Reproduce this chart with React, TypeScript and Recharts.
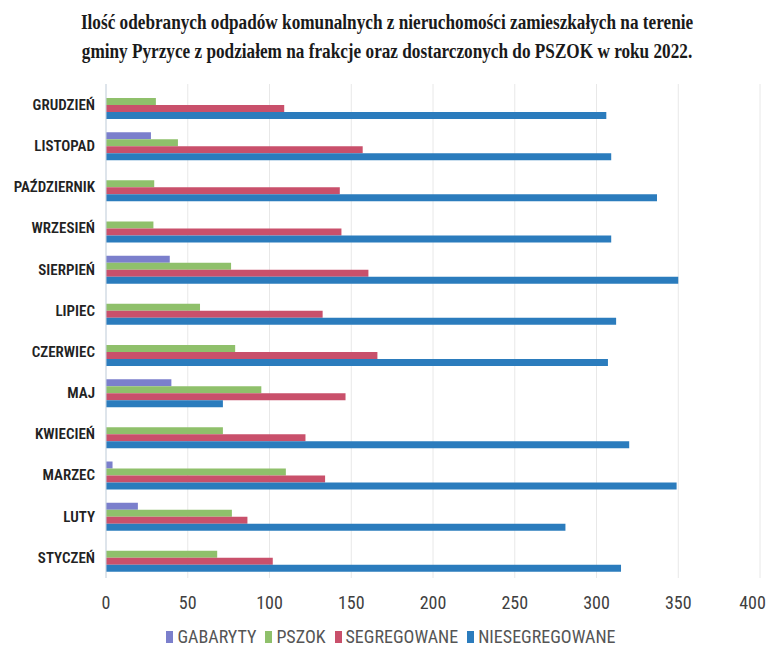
import React from "react";
import {
  BarChart,
  Bar,
  XAxis,
  YAxis,
  CartesianGrid,
  Legend,
} from "recharts";

const MONTHS = [
  "GRUDZIEŃ",
  "LISTOPAD",
  "PAŹDZIERNIK",
  "WRZESIEŃ",
  "SIERPIEŃ",
  "LIPIEC",
  "CZERWIEC",
  "MAJ",
  "KWIECIEŃ",
  "MARZEC",
  "LUTY",
  "STYCZEŃ",
];

// tonnes per month (top to bottom)
const GABARYTY = [0, 27.5, 0, 0, 39, 0, 0, 40, 0, 4, 19.5, 0];
const PSZOK = [30.5, 44, 29.5, 29, 76.5, 57.5, 79, 95, 71.5, 110, 77, 68];
const SEGREGOWANE = [109, 157, 143, 144, 160.5, 132.5, 166, 146.5, 122, 134, 86.5, 102];
const NIESEGREGOWANE = [306, 309, 337, 309, 350, 312, 307, 71.5, 320, 349, 281, 315];

const X_TICKS = [0, 50, 100, 150, 200, 250, 300, 350, 400];

const SERIES = [
  { key: "GABARYTY", color: "#7b7fcc" },
  { key: "PSZOK", color: "#8fc06b" },
  { key: "SEGREGOWANE", color: "#c9506b" },
  { key: "NIESEGREGOWANE", color: "#2b7cbd" },
];

const data = MONTHS.map((m, i) => ({
  month: m,
  GABARYTY: GABARYTY[i],
  PSZOK: PSZOK[i],
  SEGREGOWANE: SEGREGOWANE[i],
  NIESEGREGOWANE: NIESEGREGOWANE[i],
}));

const SANS = "'Liberation Sans Narrow', 'Roboto Condensed', Roboto, sans-serif";

function LegendContent() {
  return (
    <div
      style={{
        display: "flex",
        justifyContent: "center",
        gap: 9,
        fontFamily: SANS,
        fontSize: 18,
        color: "#555",
        paddingLeft: 14,
      }}
    >
      {SERIES.map((s) => (
        <span key={s.key} style={{ display: "flex", alignItems: "center" }}>
          <span
            style={{
              display: "inline-block",
              width: 7,
              height: 12,
              background: s.color,
              marginRight: 4,
            }}
          />
          {s.key}
        </span>
      ))}
    </div>
  );
}

export default function App() {
  return (
    <div style={{ position: "relative", width: 758, height: 650 }}>
      <div
        style={{
          position: "absolute",
          left: 0,
          top: 0,
          width: 758,
          textAlign: "center",
          fontFamily: "'Liberation Serif', 'Times New Roman', serif",
          fontWeight: "bold",
          fontSize: 20,
          lineHeight: "29px",
          color: "#1a1a1a",
          zIndex: 1,
        }}
      >
        <div style={{ transform: "scaleX(0.86)", transformOrigin: "center" }}>
          Ilość odebranych odpadów komunalnych z nieruchomości zamieszkałych na terenie
          <br />
          gminy Pyrzyce z podziałem na frakcje oraz dostarczonych do PSZOK w roku 2022.
        </div>
      </div>
      <BarChart
        width={758}
        height={650}
        data={data}
        layout="vertical"
        margin={{ top: 76, right: 6, left: 0, bottom: 2 }}
        barSize={7}
        barGap={0}
        barCategoryGap="16%"
      >
        <CartesianGrid horizontal={false} stroke="#e8e8e8" />
        <XAxis
          type="number"
          domain={[0, 400]}
          ticks={X_TICKS}
          axisLine={false}
          tickLine={false}
          tickSize={16}
          tickMargin={2}
          height={48}
          tick={{ fontSize: 18, fill: "#404040", fontFamily: SANS }}
        />
        <YAxis
          type="category"
          dataKey="month"
          width={98}
          axisLine={{ stroke: "#c9d6e3" }}
          tickLine={false}
          tickSize={9}
          tick={{ fontSize: 15, fill: "#222", fontFamily: SANS, fontWeight: 600 }}
        />
        <Legend
          verticalAlign="bottom"
          height={30}
          content={() => <LegendContent />}
        />
        {SERIES.map((s) => (
          <Bar
            key={s.key}
            dataKey={s.key}
            fill={s.color}
            isAnimationActive={false}
          />
        ))}
      </BarChart>
    </div>
  );
}
